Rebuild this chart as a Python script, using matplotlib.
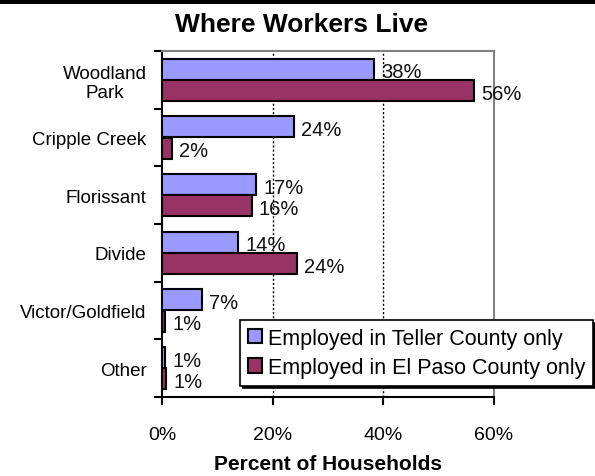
import numpy as np
import matplotlib
matplotlib.use("Agg")
import matplotlib.pyplot as plt
from matplotlib.patches import Rectangle

plt.rcParams['font.family'] = ['Liberation Sans', 'DejaVu Sans']

places = ["Woodland\nPark", "Cripple Creek", "Florissant", "Divide",
          "Victor/Goldfield", "Other"]
teller = [38.3, 23.8, 17.0, 13.8, 7.2, 0.6]
el_paso = [56.4, 1.8, 16.2, 24.4, 0.6, 0.8]
series_names = ["Employed in Teller County only",
                "Employed in El Paso County only"]
xticks = [0, 20, 40, 60]

fig = plt.figure(figsize=(5.95, 4.77), dpi=100)
ax = fig.add_axes([162 / 595, 1 - 398 / 477, 332 / 595, 346 / 477])

# heavy rule across the top of the page
fig.add_artist(Rectangle((0, 1 - 5 / 477), 1, 5 / 477, transform=fig.transFigure,
                         facecolor="black", edgecolor="none"))

y = np.arange(len(places))
h = 0.36
b1 = ax.barh(y - h / 2 - 0.005, teller, height=h, color="#9999FF",
             edgecolor="black", linewidth=1.5, label=series_names[0], zorder=3)
b2 = ax.barh(y + h / 2 + 0.005, el_paso, height=h, color="#993366",
             edgecolor="black", linewidth=1.5, label=series_names[1], zorder=3)

for bars, vals in ((b1, teller), (b2, el_paso)):
    for bar, v in zip(bars, vals):
        cy = bar.get_y() + bar.get_height() / 2
        ax.annotate(f"{v:.0f}%", (v, cy), xytext=(5, -2), textcoords="offset points",
                    va="center", ha="left", fontsize=14.5, color="#111111", zorder=4)

ax.set_xlim(0, 60)
ax.set_ylim(len(places) - 0.5, -0.5)
ax.set_xticks(xticks)
ax.set_xticklabels([f"{t}%" for t in xticks], fontsize=14)
ax.set_yticks(y)
ax.set_yticklabels(places, fontsize=13.5, multialignment="center")
ax.set_yticks(np.arange(len(places) + 1) - 0.5, minor=True)
ax.tick_params(axis="y", which="major", length=0, pad=11)
ax.tick_params(axis="y", which="minor", length=6, width=1.5, direction="out")
ax.tick_params(axis="x", length=6, width=1.5, direction="out", pad=15)

for x in xticks[1:-1]:
    ax.axvline(x, color="black", linestyle=(0, (1.5, 1.5)), linewidth=1, zorder=1)

ax.spines["left"].set_linewidth(1.5)
ax.spines["bottom"].set_linewidth(1.5)
ax.spines["top"].set_color("#808080")
ax.spines["right"].set_color("#808080")
ax.spines["top"].set_linewidth(1.5)
ax.spines["right"].set_linewidth(1.5)

ax.set_xlabel("Percent of Households", fontsize=15, fontweight="bold", labelpad=8)
fig.text(302 / 595, 1 - 25 / 477, "Where Workers Live", ha="center", va="center",
         fontsize=19, fontweight="bold")

leg = ax.legend(loc="upper left", bbox_to_anchor=(240 / 595, 1 - 321 / 477),
                bbox_transform=fig.transFigure, fontsize=15.5, frameon=True,
                fancybox=False, framealpha=1, edgecolor="black",
                shadow={"color": "black", "alpha": 1}, borderpad=0.35,
                handlelength=0.65, handleheight=0.65, handletextpad=0.3,
                labelspacing=0.4, borderaxespad=0)
leg.get_frame().set_linewidth(1.2)

fig.savefig("out.png", dpi=100)
